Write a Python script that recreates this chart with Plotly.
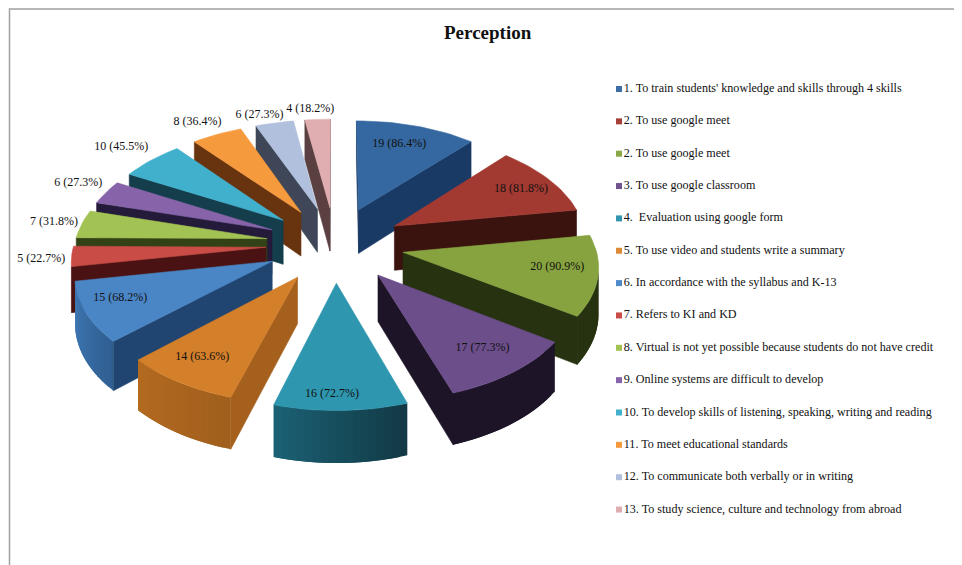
import math
import plotly.graph_objects as go

# ---------- data ----------
TITLE = "Perception"
RESPONDENTS = 22
categories = [
    "1. To train students' knowledge and skills through 4 skills",
    "2. To use google meet",
    "2. To use google meet",
    "3. To use google classroom",
    "4.  Evaluation using google form",
    "5. To use video and students write a summary",
    "6. In accordance with the syllabus and K-13",
    "7. Refers to KI and KD",
    "8. Virtual is not yet possible because students do not have credit",
    "9. Online systems are difficult to develop",
    "10. To develop skills of listening, speaking, writing and reading",
    "11. To meet educational standards",
    "12. To communicate both verbally or in writing",
    "13. To study science, culture and technology from abroad",
]
values = [19, 18, 20, 17, 16, 14, 15, 5, 7, 6, 10, 8, 6, 4]

# ---------- styles ----------
top_colors = ["#3568A0", "#A33A32", "#86A33F", "#6B4E8A", "#2E96AE", "#D47F2A", "#4A86C5",
              "#C94C47", "#A2C254", "#8764A9", "#41B0CC", "#F69B3D", "#B0C0DD", "#E0AEB0"]
legend_colors = ["#3A6EA5", "#A83E38", "#8AA845", "#70528F", "#3396AE", "#DC8A35", "#4F8BCB",
                 "#C94C47", "#A2C254", "#8764A9", "#41B0CC", "#F69B3D", "#B0C0DD", "#E0AEB0"]
radial_colors = ["#1A3A66", "#3A120E", "#263210", "#1E1428", "#1B6275", "#A6601D", "#204570",
                 "#4A1212", "#334216", "#241A3A", "#143E4C", "#683410", "#3E4658", "#5A4040"]
arc_left = ["#1A3A66", "#3A120E", "#263210", "#1E1428", "#1B6275", "#B36A20", "#4079B5",
            "#4A1212", "#334216", "#241A3A", "#143E4C", "#683410", "#3E4658", "#5A4040"]
arc_right = ["#1A3A66", "#3A120E", "#263210", "#1E1428", "#123844", "#A05F1D", "#2F5F92",
             "#4A1212", "#334216", "#241A3A", "#143E4C", "#683410", "#3E4658", "#5A4040"]

# ---------- projection of the tilted, exploded pie (pixel space of the axes) ----------
PAGE_W, PAGE_H, PAGE_MARGIN = 962, 565, 8
CX, CY = 335, 244
A, B = 192, 105      # ellipse radii
K = 0.105            # perspective strength
PULL = 0.36          # explosion, in radii
DEPTH = 45           # extrusion height


def project(u, v, down=False):
    s = 1 / (1 - K * v)
    return CX + A * u * s, CY + B * v * s + (DEPTH * s if down else 0)


def polar(theta, r, pull_dir):
    return (r * math.sin(theta) + PULL * math.sin(pull_dir),
            -r * math.cos(theta) - PULL * math.cos(pull_dir))


def hex_mix(c1, c2, t):
    a = [int(c1[i:i + 2], 16) for i in (1, 3, 5)]
    b = [int(c2[i:i + 2], 16) for i in (1, 3, 5)]
    return "#%02x%02x%02x" % tuple(round(x + (y - x) * t) for x, y in zip(a, b))


total = sum(values)
slices = []
cum = 0
for i, val in enumerate(values):
    start = cum / total * 2 * math.pi
    end = (cum + val) / total * 2 * math.pi
    cum += val
    mid = (start + end) / 2
    n = max(4, int(math.degrees(end - start) / 2))
    rim = [polar(start + (end - start) * j / n, 1, mid) for j in range(n + 1)]
    tip = polar(0, 0, mid)
    slices.append(dict(i=i, mid=mid, rim=rim, tip=tip))

fig = go.Figure()


def add_poly(pts, color, lw=0.6):
    xs = [p[0] for p in pts] + [pts[0][0]]
    ys = [p[1] for p in pts] + [pts[0][1]]
    fig.add_trace(go.Scatter(x=xs, y=ys, mode="lines", fill="toself", fillcolor=color,
                             line=dict(color=color, width=lw), hoverinfo="skip",
                             showlegend=False))


def add_side(a, b, color):
    pa, pb = project(*a), project(*b)
    if pb[0] - pa[0] < 0:  # only faces that turn towards the viewer
        add_poly([pa, pb, project(*b, down=True), project(*a, down=True)], color)


def add_rim(rim, left, right):
    """Outer wall: a run of overlapping strips so no seams show between them."""
    m = len(rim) - 1
    visible = [j for j in range(m) if project(*rim[j + 1])[0] < project(*rim[j])[0]]
    if not visible:
        return
    for j in visible:
        last = min(j + 2, visible[-1] + 1)
        top = [project(*rim[q]) for q in range(j, last + 1)]
        bottom = [project(*rim[q], down=True) for q in range(last, j - 1, -1)]
        add_poly(top + bottom, hex_mix(right, left, (j + 0.5) / m), lw=0)


for s in sorted(slices, key=lambda q: project(*polar(0, 0.5, q["mid"]))[1]):
    i = s["i"]
    add_rim(s["rim"], arc_left[i], arc_right[i])
    add_side(s["tip"], s["rim"][0], radial_colors[i])
    add_side(s["rim"][-1], s["tip"], radial_colors[i])
    add_poly([project(*s["tip"])] + [project(*p) for p in s["rim"]], top_colors[i])

# ---------- slice labels ----------
label_radius = [0.72, 0.72, 0.78, 0.72, 0.85, 0.85, 0.9, 1.18, 1.18, 1.2, 1.18, 1.2, 1.18, 1.12]
label_nudge = [(-2, -4), (14, -3), (3, -4), (10, 5), (-8, 4), (4, -8), (15, -9),
               (5, 1), (5, 0), (4, -2), (-8, -3), (-4, 2), (-8, 6), (-6, -1)]
lx, ly, lt = [], [], []
for s in slices:
    i = s["i"]
    p = project(*polar(s["mid"], label_radius[i], s["mid"]))
    lx.append(p[0] + label_nudge[i][0])
    ly.append(p[1] + label_nudge[i][1])
    lt.append(f"{values[i]} ({values[i] / RESPONDENTS * 100:.1f}%)")
fig.add_trace(go.Scatter(x=lx, y=ly, text=lt, mode="text", textposition="middle center",
                         textfont=dict(family="Liberation Serif", size=12, color="#111111"),
                         hoverinfo="skip", showlegend=False))

# ---------- legend column ----------
LEG_X, LEG_Y, LEG_STEP = 619, 89, 32.35
fig.add_trace(go.Scatter(
    x=[LEG_X] * len(categories),
    y=[LEG_Y + LEG_STEP * i for i in range(len(categories))],
    text=categories, mode="markers+text", textposition="middle right",
    marker=dict(symbol="square", size=6, color=legend_colors),
    textfont=dict(family="Liberation Serif", size=12.1, color="#111111"),
    hoverinfo="skip", showlegend=False))

# The page keeps its default 8 px body margin, so the axes start there.
fig.update_layout(
    width=PAGE_W - PAGE_MARGIN, height=PAGE_H - PAGE_MARGIN,
    margin=dict(l=0, r=0, t=0, b=0),
    paper_bgcolor="white", plot_bgcolor="white", showlegend=False,
    xaxis=dict(range=[PAGE_MARGIN, PAGE_W], visible=False, fixedrange=True),
    yaxis=dict(range=[PAGE_H, PAGE_MARGIN], visible=False, fixedrange=True),
    shapes=[dict(type="rect", xref="x", yref="y", x0=9.5, y0=9, x1=PAGE_W + 10, y1=PAGE_H + 10,
                 line=dict(color="#A0A0A0", width=1.5), fillcolor="rgba(0,0,0,0)")],
    annotations=[dict(text=f"<b>{TITLE}</b>", x=488, y=32, xref="x", yref="y", showarrow=False,
                      font=dict(family="Liberation Serif", size=19, color="#111111"))],
)
fig.write_html("out.html")
